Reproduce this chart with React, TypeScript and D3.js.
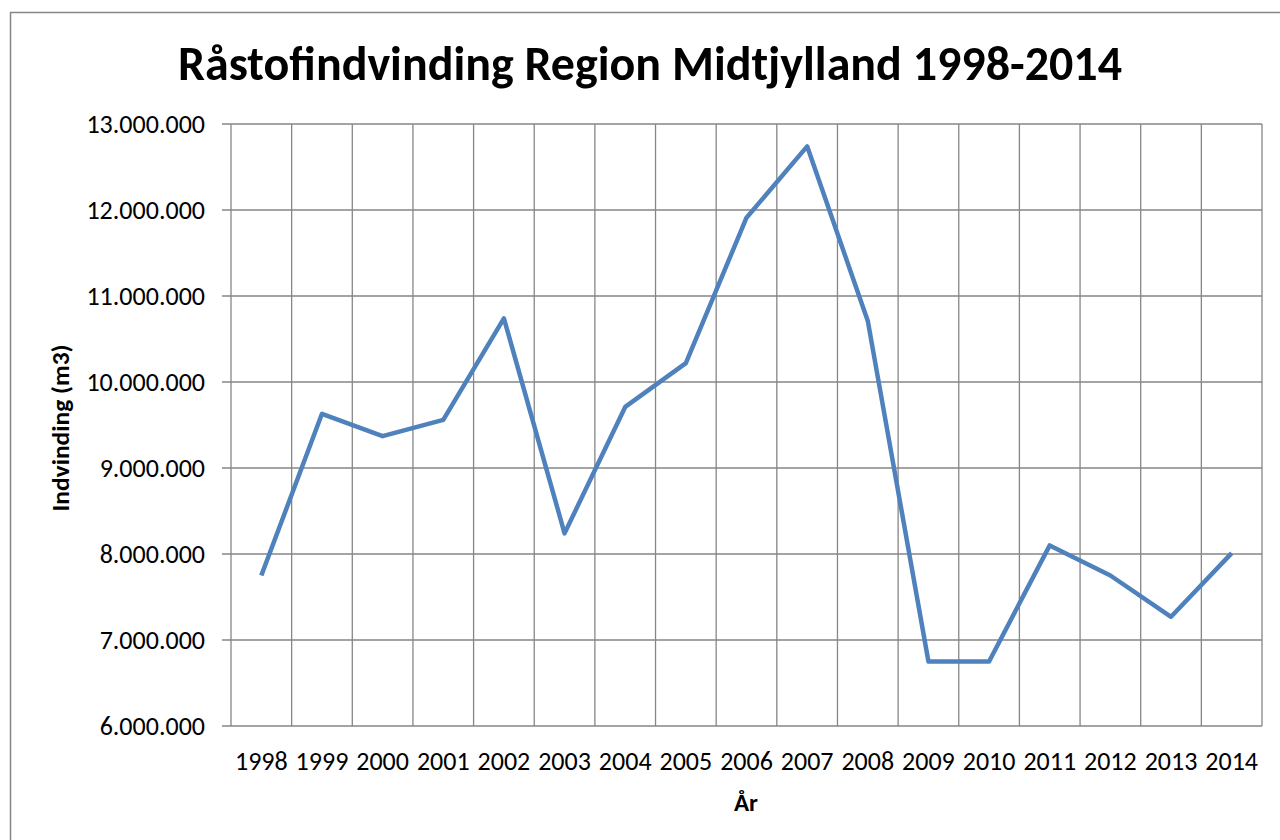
import React from "react";
import * as d3 from "d3";

const years = ["1998","1999","2000","2001","2002","2003","2004","2005","2006","2007","2008","2009","2010","2011","2012","2013","2014"];
const values = [7750000, 9630000, 9370000, 9560000, 10740000, 8240000, 9710000, 10220000, 11910000, 12740000, 10710000, 6750000, 6750000, 8100000, 7750000, 7270000, 8010000];
const yTicks = [6000000, 7000000, 8000000, 9000000, 10000000, 11000000, 12000000, 13000000];

const W = 1280, H = 840;
const left = 231, right = 1262, top = 124, bottom = 726;
const font = "Carlito, Calibri, Lato, sans-serif";

export default function App() {
  const x = d3.scaleBand<string>().domain(years).range([left, right]);
  const y = d3.scaleLinear().domain([6000000, 13000000]).range([bottom, top]);
  const loc = d3.formatLocale({ decimal: ",", thousands: ".", grouping: [3], currency: ["", ""] });
  const fmt = loc.format(",d");
  const line = d3.line<number>().x((_, i) => x(years[i])! + x.bandwidth() / 2).y(d => y(d));
  const bounds = years.map(yr => x(yr)!).concat([right]);
  const grid = "#868686";
  return (
    <svg width={W} height={H} style={{ position: "absolute", left: 0, top: 0, background: "#fff" }} fontFamily={font}>
      <rect x={10.5} y={12.5} width={1300} height={900} fill="#fff" stroke={grid} strokeWidth={1.5} />
      <text x={650} y={80} textAnchor="middle" fontSize={49} fontWeight="bold" fill="#000" textLength={944} lengthAdjust="spacingAndGlyphs">Råstofindvinding Region Midtjylland 1998-2014</text>
      {yTicks.map(t => (
        <g key={t}>
          <line x1={222} x2={right} y1={y(t)} y2={y(t)} stroke={grid} strokeWidth={1.3} />
          <text x={205} y={y(t)} dy="0.33em" textAnchor="end" fontSize={26} fill="#000">{fmt(t)}</text>
        </g>
      ))}
      {bounds.map((b, i) => (
        <line key={i} x1={b} x2={b} y1={top} y2={bottom} stroke={grid} strokeWidth={1.3} />
      ))}
      {years.map(yr => (
        <text key={yr} x={x(yr)! + x.bandwidth() / 2} y={770} textAnchor="middle" fontSize={26} fill="#000">{yr}</text>
      ))}
      <path d={line(values)!} fill="none" stroke="#4F81BD" strokeWidth={4.5} strokeLinejoin="round" />
      <text transform={`translate(69,428) rotate(-90)`} textAnchor="middle" fontSize={24} fontWeight="bold" fill="#000" textLength={167} lengthAdjust="spacingAndGlyphs">Indvinding (m3)</text>
      <text x={746} y={811} textAnchor="middle" fontSize={25} fontWeight="bold" fill="#000">År</text>
    </svg>
  );
}
